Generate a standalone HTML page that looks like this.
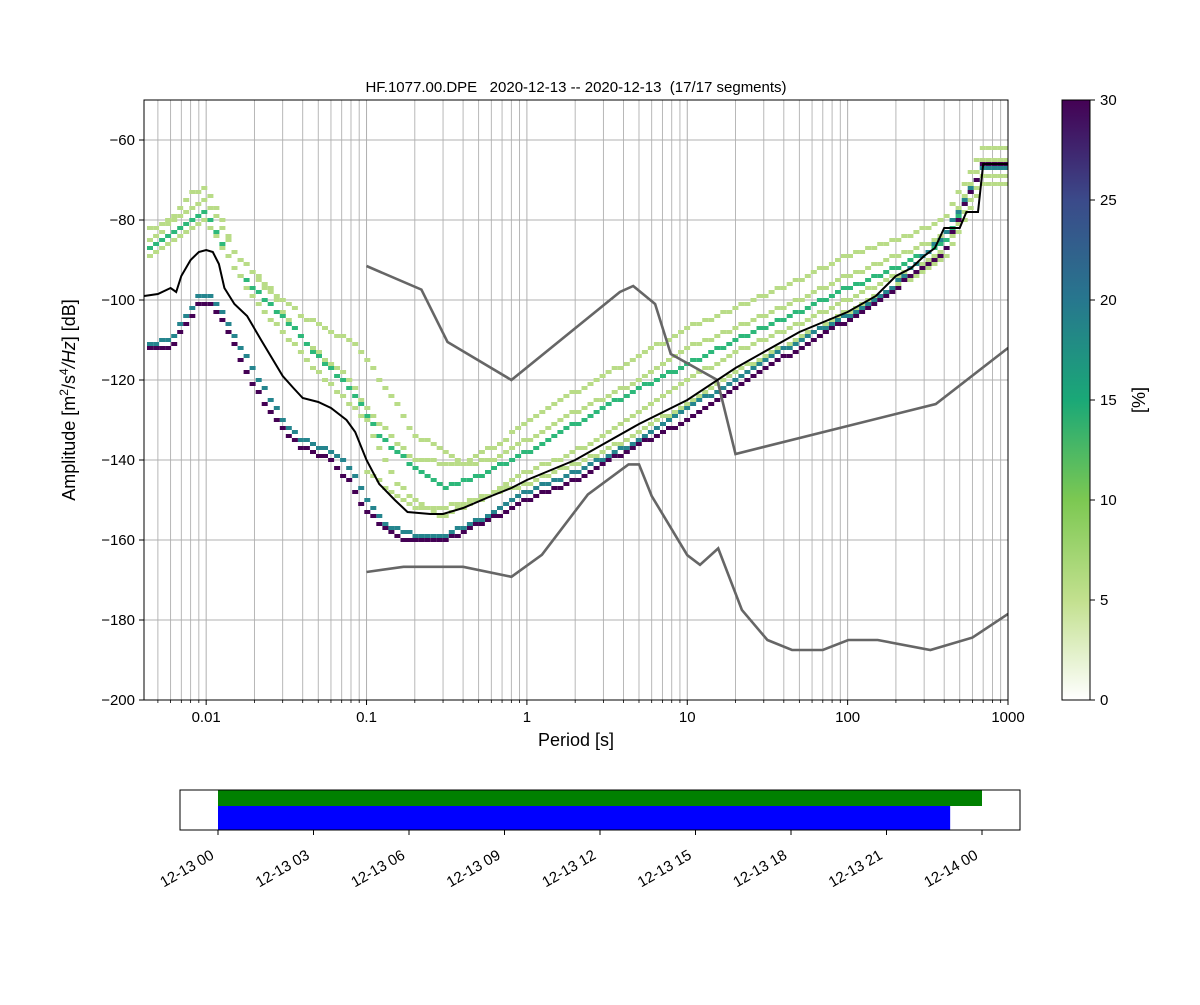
<!DOCTYPE html>
<html><head><meta charset="utf-8"><style>
body{margin:0;background:#fff}
svg text{font-family:"Liberation Sans","DejaVu Sans",sans-serif}
</style></head><body>
<svg id="fig" width="1200" height="1000" xmlns="http://www.w3.org/2000/svg">
<defs>
<linearGradient id="cbg" x1="0" y1="1" x2="0" y2="0">
<stop offset="0" stop-color="#ffffff"/>
<stop offset="0.1667" stop-color="#c2e08e"/>
<stop offset="0.3333" stop-color="#7cc852"/>
<stop offset="0.5" stop-color="#1aa877"/>
<stop offset="0.6667" stop-color="#27778e"/>
<stop offset="0.8333" stop-color="#3b4a8a"/>
<stop offset="1" stop-color="#440154"/>
</linearGradient>
<clipPath id="clipMain"><rect x="144" y="100" width="864" height="600"/></clipPath>
</defs>
<g id="grid"></g>
<g id="cells" clip-path="url(#clipMain)"></g>
<g id="models" clip-path="url(#clipMain)"></g>
<g id="meanG" clip-path="url(#clipMain)"></g>
<rect x="144" y="100" width="864" height="600" fill="none" stroke="#000" stroke-width="1"/>
<g id="axes"></g>
<text x="576" y="92" font-size="15" text-anchor="middle" xml:space="preserve" style="white-space:pre">HF.1077.00.DPE   2020-12-13 -- 2020-12-13  (17/17 segments)</text>
<text x="576" y="746" font-size="18" text-anchor="middle">Period [s]</text>
<text transform="translate(75,400) rotate(-90)" font-size="18" text-anchor="middle">Amplitude [m<tspan dy="-7" font-size="12">2</tspan><tspan dy="7">/s</tspan><tspan dy="-7" font-size="12">4</tspan><tspan dy="7" font-style="italic">/Hz</tspan>] [dB]</text>
<rect x="1062" y="100" width="28" height="600" fill="url(#cbg)" stroke="#000" stroke-width="1"/>
<g id="cbticks"></g>
<text transform="translate(1145,400) rotate(-90)" font-size="18" text-anchor="middle">[%]</text>
<g id="timeline"></g>
</svg>
<script>
const NS="http://www.w3.org/2000/svg";
function mk(tag,attrs,parent){const e=document.createElementNS(NS,tag);for(const k in attrs)e.setAttribute(k,attrs[k]);parent.appendChild(e);return e;}
const X0=144,X1=1008,PMIN=0.004096,PMAX=1000;
const xs=p=>X0+(Math.log10(p)-Math.log10(PMIN))/(Math.log10(PMAX)-Math.log10(PMIN))*(X1-X0);
const ys=d=>100+(-50-d)*(600/150);

const xTickVals=[0.01,0.1,1,10,100,1000];
const xTickLabels=["0.01","0.1","1","10","100","1000"];
const yTickVals=[-60,-80,-100,-120,-140,-160,-180,-200];
const cbTickVals=[0,5,10,15,20,25,30];

const traceA=[[0.0041,-83],[0.006,-80],[0.008,-73],[0.01,-72],[0.012,-78],[0.015,-88],[0.02,-93],[0.03,-100],[0.04,-104],[0.06,-108],[0.08,-110],[0.1,-115],[0.15,-125],[0.2,-134],[0.3,-137],[0.4,-141],[0.6,-137],[1,-131],[2,-123],[5,-114],[10,-107],[20,-102],[50,-95],[100,-89],[200,-85],[400,-80],[700,-62],[1000,-62]];
const traceB=[[0.0041,-86],[0.008,-77],[0.01,-75],[0.012,-80],[0.015,-88],[0.025,-98],[0.04,-110],[0.06,-116],[0.08,-120],[0.1,-127],[0.15,-135],[0.2,-140],[0.4,-141],[0.6,-140],[1,-135],[2,-128],[5,-120],[10,-112],[20,-107],[50,-100],[100,-94],[200,-89],[400,-84],[700,-65],[1000,-65]];
const traceC=[[0.0041,-88],[0.01,-78],[0.015,-92],[0.03,-104],[0.05,-114],[0.08,-122],[0.12,-134],[0.2,-142],[0.3,-147],[0.5,-144],[1,-138],[2,-131],[5,-122],[10,-116],[20,-110],[50,-103],[100,-97],[200,-92],[400,-86],[700,-67],[1000,-67]];
const traceD=[[0.0041,-90],[0.01,-80],[0.02,-100],[0.05,-118],[0.1,-130],[0.15,-145],[0.2,-150],[0.3,-154],[0.5,-150],[1,-143],[2,-138],[5,-128],[10,-120],[20,-113],[50,-106],[100,-100],[200,-94],[400,-88],[700,-69],[1000,-69]];
const traceE=[[0.1,-143],[0.2,-152],[0.3,-152],[1,-146],[3,-138],[10,-126],[20,-118],[100,-103],[400,-90],[700,-71],[1000,-71]];
const traceF=[[0.0041,-111],[0.006,-110],[0.007,-106],[0.009,-99],[0.011,-99],[0.013,-104],[0.02,-118],[0.03,-130],[0.04,-135],[0.06,-138],[0.08,-142],[0.1,-150],[0.13,-156],[0.2,-159],[0.3,-159],[0.5,-155],[1,-148],[2,-143],[5,-135],[10,-127],[20,-120],[50,-110],[100,-104],[200,-96],[400,-84],[700,-67],[1000,-67]];
const traceG=[[0.0041,-112.5],[0.006,-112],[0.0075,-106],[0.009,-101],[0.011,-101],[0.013,-106],[0.02,-122],[0.03,-132],[0.04,-137],[0.06,-140],[0.08,-146],[0.1,-153],[0.15,-159],[0.2,-160.5],[0.3,-160.5],[0.5,-156],[0.8,-152.5],[1,-150],[2,-145],[5,-136],[10,-130],[20,-122],[50,-112],[100,-105],[200,-97],[400,-88],[700,-66],[1000,-66]];
const traceColors=["#b9dc87","#b9dc87","#2db87a","#b9dc87","#b9dc87","#25858e","#440154"];
const traces=[traceA,traceB,traceC,traceD,traceE,traceF,traceG];

const meanCurve=[[0.0041,-99],[0.005,-98.5],[0.006,-97],[0.0065,-98],[0.007,-94],[0.008,-90],[0.009,-88],[0.01,-87.5],[0.011,-88],[0.012,-91],[0.013,-97],[0.015,-101],[0.018,-104],[0.022,-110],[0.03,-119],[0.035,-122],[0.04,-124.5],[0.05,-125.5],[0.06,-127],[0.075,-130],[0.085,-133],[0.1,-140],[0.12,-146],[0.15,-150],[0.18,-153],[0.25,-153.5],[0.3,-153.5],[0.4,-152],[0.6,-149],[0.8,-147],[1,-145],[2,-140],[5,-131],[10,-125],[20,-117],[50,-108],[100,-103],[150,-99],[200,-94],[250,-92],[300,-89],[350,-87],[400,-82],[500,-82],[550,-78],[650,-78],[700,-66],[1000,-66]];
const nhnm=[[0.1,-91.5],[0.22,-97.4],[0.32,-110.5],[0.8,-120],[3.8,-98],[4.6,-96.5],[6.3,-101],[7.9,-113.5],[15.4,-120],[20,-138.5],[354.8,-126],[1000,-112]];
const nlnm=[[0.1,-168],[0.17,-166.7],[0.4,-166.7],[0.8,-169.2],[1.24,-163.7],[2.4,-148.6],[4.3,-141.1],[5,-141.1],[6,-149],[10,-163.8],[12,-166.2],[15.6,-162.1],[21.9,-177.5],[31.6,-185],[45,-187.5],[70,-187.5],[101,-185],[154,-185],[328,-187.5],[600,-184.4],[1000,-178.5]];

const tlTickHours=[0,3,6,9,12,15,18,21,24];
const tlTickLabels=["12-13 00","12-13 03","12-13 06","12-13 09","12-13 12","12-13 15","12-13 18","12-13 21","12-14 00"];
const tlGreen=[0,24];
const tlBlue=[0,23];
const T0x=218,HPX=(982-218)/24;
const tx=h=>T0x+h*HPX;

function interp(tr,p){const lp=Math.log10(p);
 if(p<tr[0][0]||p>tr[tr.length-1][0])return null;
 for(let i=0;i<tr.length-1;i++){const a=Math.log10(tr[i][0]),b=Math.log10(tr[i+1][0]);
  if(lp>=a&&lp<=b){const t=b===a?0:(lp-a)/(b-a);return tr[i][1]+t*(tr[i+1][1]-tr[i][1]);}}
 return tr[tr.length-1][1];}

const grid=document.getElementById('grid');
for(let e=-3;e<=2;e++){for(let m=1;m<=9;m++){const p=m*Math.pow(10,e);if(p<PMIN||p>PMAX)continue;const x=xs(p);
 const l=mk('line',{x1:x,x2:x,y1:100,y2:700,stroke:'#b0b0b0','stroke-width':m===1?1:0.9},grid);
 
 }}
yTickVals.forEach(v=>{const y=ys(v);const l=mk('line',{x1:144,x2:1008,y1:y,y2:y,stroke:'#b0b0b0','stroke-width':1},grid);
 
 });

const cells=document.getElementById('cells');
const binStep=Math.log10(2)/8;
traces.forEach((tr,ti)=>{
 for(let lp=Math.log10(PMIN);lp<=3.05;lp+=binStep){const p=Math.pow(10,lp);const d=interp(tr,p);if(d===null)continue;
  const dq=Math.round(d);const x=xs(p);
  const r=mk('rect',{x:(x-3).toFixed(1),y:ys(dq+0.5).toFixed(1),width:6,height:4,fill:traceColors[ti]},cells);
  
  }
});

function poly(tr,parent,attrs,name){const pts=tr.map(q=>xs(q[0]).toFixed(1)+','+ys(q[1]).toFixed(1)).join(' ');
 const e=mk('polyline',Object.assign({points:pts,fill:'none'},attrs),parent);
 
 }
const models=document.getElementById('models');
poly(nhnm,models,{stroke:'#666','stroke-width':2.6},'nhnm-line');
poly(nlnm,models,{stroke:'#666','stroke-width':2.6},'nlnm-line');
poly(meanCurve,document.getElementById('meanG'),{stroke:'#000','stroke-width':2},'mean-line');

const axes=document.getElementById('axes');
xTickVals.forEach((v,i)=>{const x=xs(v);mk('line',{x1:x,x2:x,y1:700,y2:705,stroke:'#000'},axes);
 const t=mk('text',{x:x,y:722,'font-size':15,'text-anchor':'middle'},axes);t.textContent=xTickLabels[i];
 
 });
for(let e=-3;e<=2;e++){for(let m=2;m<=9;m++){const p=m*Math.pow(10,e);if(p<PMIN||p>PMAX)continue;const x=xs(p);mk('line',{x1:x,x2:x,y1:700,y2:703,stroke:'#000','stroke-width':0.8},axes);}}
yTickVals.forEach(v=>{const y=ys(v);mk('line',{x1:139,x2:144,y1:y,y2:y,stroke:'#000'},axes);
 const t=mk('text',{x:135,y:y+5,'font-size':15,'text-anchor':'end'},axes);t.textContent='\u2212'+Math.abs(v);
 
 });
const cbt=document.getElementById('cbticks');
cbTickVals.forEach(v=>{const y=700-v*20;mk('line',{x1:1090,x2:1095,y1:y,y2:y,stroke:'#000'},cbt);
 const t=mk('text',{x:1100,y:y+5,'font-size':15},cbt);t.textContent=v;
 
 });

const tl=document.getElementById('timeline');
let r=mk('rect',{x:tx(tlGreen[0]),y:790,width:tx(tlGreen[1])-tx(tlGreen[0]),height:16,fill:'#008000'},tl);


r=mk('rect',{x:tx(tlBlue[0]),y:806,width:tx(tlBlue[1])-tx(tlBlue[0]),height:24,fill:'#0000ff'},tl);


mk('rect',{x:180,y:790,width:840,height:40,fill:'none',stroke:'#000'},tl);
tlTickHours.forEach((h,i)=>{const x=tx(h);mk('line',{x1:x,x2:x,y1:830,y2:835,stroke:'#000'},tl);
 const ax=x-3,ay=858;
 const t=mk('text',{x:ax,y:ay,'font-size':15,'text-anchor':'end',transform:`rotate(-30 ${ax} ${ay})`},tl);t.textContent=tlTickLabels[i];
 
 });
</script>
</body></html>
